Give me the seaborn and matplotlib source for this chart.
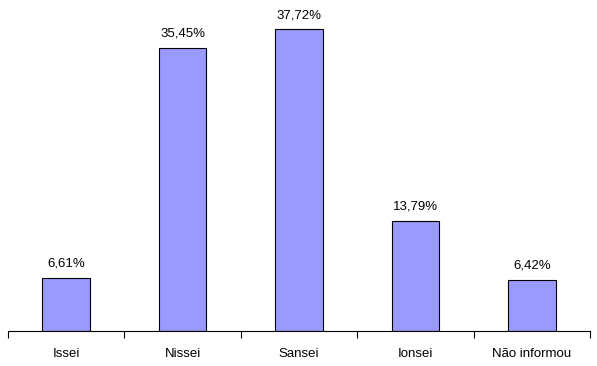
import matplotlib
matplotlib.use("Agg")
import matplotlib.pyplot as plt
import seaborn as sns
import pandas as pd
import numpy as np
from matplotlib.ticker import FixedLocator

categories = ["Issei", "Nissei", "Sansei", "Ionsei", "Não informou"]
values = [6.61, 35.45, 37.72, 13.79, 6.42]
labels = ["6,61%", "35,45%", "37,72%", "13,79%", "6,42%"]

sns.set_style("white")
plt.rcParams['font.family'] = ['Liberation Sans', 'DejaVu Sans']

df = pd.DataFrame({"cat": categories, "val": values})

fig = plt.figure(figsize=(5.97, 3.66), dpi=100)
ax = fig.add_axes([8/597, 35/366, 582/597, 331/366])
sns.barplot(data=df, x="cat", y="val", color="#9999FF", saturation=1,
            edgecolor="black", linewidth=0.8, width=0.41, ax=ax)
ax.set_xlim(-0.5, len(categories) - 0.5)
ax.set_ylim(0, 41.4)
ax.set_xlabel("")
ax.set_ylabel("")
ax.set_yticks([])
for s in ["top", "right", "left"]:
    ax.spines[s].set_visible(False)
ax.spines["bottom"].set_linewidth(0.8)
ax.spines["bottom"].set_color("black")
ax.tick_params(axis="x", which="major", length=0, pad=12, labelsize=9.5, labelcolor="black")
ax.xaxis.set_minor_locator(FixedLocator(np.arange(-0.5, len(categories), 1.0)))
ax.tick_params(axis="x", which="minor", bottom=True, length=5, width=0.8, direction="out", color="black")
for p, lab in zip(ax.patches, labels):
    ax.annotate(lab, (p.get_x() + p.get_width()/2, p.get_height()),
                xytext=(0, 6), textcoords="offset points", ha="center", va="bottom",
                fontsize=9.5, color="black")
fig.savefig("out.png", dpi=100)
